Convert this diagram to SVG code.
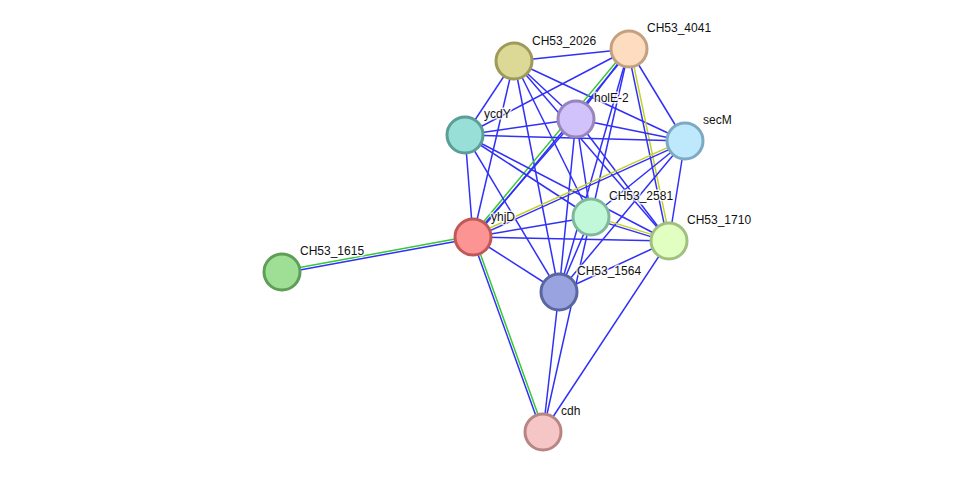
<svg xmlns="http://www.w3.org/2000/svg" width="976" height="478" viewBox="0 0 976 478">
<style>
.e{stroke:#3030f8;stroke-width:1.5;fill:none}
.g{stroke:#36c836;stroke-width:1.5;fill:none}
.y{stroke:#c4d02a;stroke-width:1.5;fill:none}
.n circle{stroke-width:3}
.n text{font-family:"Liberation Sans",Arial,sans-serif;font-size:12px;fill:#111;stroke:#fff;stroke-width:3;stroke-opacity:0.8;paint-order:stroke;stroke-linejoin:round}
</style>
<rect width="976" height="478" fill="#fff"/>
<g id="connectors">
<line class="e" x1="514" y1="61" x2="629" y2="49"/>
<line class="e" x1="514" y1="61" x2="576" y2="119"/>
<line class="e" x1="514" y1="61" x2="465" y2="135"/>
<line class="e" x1="514" y1="61" x2="685" y2="141"/>
<line class="e" x1="514" y1="61" x2="591" y2="217"/>
<line class="e" x1="514" y1="61" x2="473" y2="237"/>
<line class="e" x1="514" y1="61" x2="669" y2="241"/>
<line class="e" x1="514" y1="61" x2="559" y2="292"/>
<line class="e" x1="629" y1="49" x2="576" y2="119"/>
<line class="e" x1="629" y1="49" x2="465" y2="135"/>
<line class="e" x1="629" y1="49" x2="685" y2="141"/>
<line class="e" x1="629" y1="49" x2="591" y2="217"/>
<line class="e" x1="629" y1="49" x2="559" y2="292"/>
<line class="g" x1="627.8" y1="48" x2="471.8" y2="236"/>
<line class="e" x1="630.2" y1="50" x2="474.2" y2="238"/>
<line class="e" x1="627.8" y1="49.3" x2="667.8" y2="241.3"/>
<line class="y" x1="630.3" y1="48.7" x2="670.3" y2="240.7"/>
<line class="e" x1="576" y1="119" x2="465" y2="135"/>
<line class="e" x1="576" y1="119" x2="685" y2="141"/>
<line class="e" x1="576" y1="119" x2="591" y2="217"/>
<line class="e" x1="576" y1="119" x2="473" y2="237"/>
<line class="e" x1="576" y1="119" x2="669" y2="241"/>
<line class="e" x1="576" y1="119" x2="559" y2="292"/>
<line class="e" x1="465" y1="135" x2="685" y2="141"/>
<line class="e" x1="465" y1="135" x2="591" y2="217"/>
<line class="e" x1="465" y1="135" x2="473" y2="237"/>
<line class="e" x1="465" y1="135" x2="669" y2="241"/>
<line class="e" x1="465" y1="135" x2="559" y2="292"/>
<line class="e" x1="685" y1="141" x2="591" y2="217"/>
<line class="e" x1="685" y1="141" x2="669" y2="241"/>
<line class="e" x1="685" y1="141" x2="559" y2="292"/>
<line class="e" x1="685.5" y1="142.1" x2="473.5" y2="238.1"/>
<line class="y" x1="684.5" y1="139.9" x2="472.5" y2="235.9"/>
<line class="e" x1="591" y1="217" x2="473" y2="237"/>
<line class="y" x1="591.35" y1="215.85" x2="669.35" y2="239.85"/>
<line class="e" x1="590.65" y1="218.15" x2="668.65" y2="242.15"/>
<line class="e" x1="591" y1="217" x2="559" y2="292"/>
<line class="e" x1="591" y1="217" x2="543" y2="432"/>
<line class="e" x1="473" y1="237" x2="669" y2="241"/>
<line class="e" x1="473" y1="237" x2="559" y2="292"/>
<line class="g" x1="472.78" y1="235.82" x2="281.78" y2="270.82"/>
<line class="e" x1="473.22" y1="238.18" x2="282.22" y2="273.18"/>
<line class="g" x1="474.13" y1="236.59" x2="544.13" y2="431.59"/>
<line class="e" x1="471.87" y1="237.41" x2="541.87" y2="432.41"/>
<line class="e" x1="669" y1="241" x2="559" y2="292"/>
<line class="e" x1="669" y1="241" x2="543" y2="432"/>
<line class="e" x1="559" y1="292" x2="543" y2="432"/>
</g>
<g id="CH53_2026" class="n"><circle cx="514" cy="61" r="18" fill="#dbd995" stroke="#9e9a5a"/><text x="532" y="45">CH53_2026</text></g>
<g id="CH53_4041" class="n"><circle cx="629" cy="49" r="18" fill="#fddcc0" stroke="#c3a080"/><text x="647" y="32">CH53_4041</text></g>
<g id="holE-2" class="n"><circle cx="576" cy="119" r="18" fill="#d2c2fb" stroke="#9785bb"/><text x="594" y="102">holE-2</text></g>
<g id="ycdY" class="n"><circle cx="465" cy="135" r="18" fill="#98dfd7" stroke="#5a9e96"/><text x="484" y="118">ycdY</text></g>
<g id="secM" class="n"><circle cx="685" cy="141" r="18" fill="#bee8fb" stroke="#7ca9c3"/><text x="703" y="124">secM</text></g>
<g id="CH53_2581" class="n"><circle cx="591" cy="217" r="18" fill="#c0f8d9" stroke="#7fb99a"/><text x="609" y="200">CH53_2581</text></g>
<g id="yhjD" class="n"><circle cx="473" cy="237" r="18" fill="#fc9494" stroke="#c05858"/><text x="491" y="221">yhjD</text></g>
<g id="CH53_1710" class="n"><circle cx="669" cy="241" r="18" fill="#e1ffc1" stroke="#a0c080"/><text x="687" y="224">CH53_1710</text></g>
<g id="CH53_1564" class="n"><circle cx="559" cy="292" r="18" fill="#99a3e0" stroke="#5a66a0"/><text x="577" y="275">CH53_1564</text></g>
<g id="CH53_1615" class="n"><circle cx="282" cy="272" r="18" fill="#9fde95" stroke="#5e9e56"/><text x="300" y="255">CH53_1615</text></g>
<g id="cdh" class="n"><circle cx="543" cy="432" r="18" fill="#f6c5c5" stroke="#b88585"/><text x="561" y="415">cdh</text></g>
</svg>
